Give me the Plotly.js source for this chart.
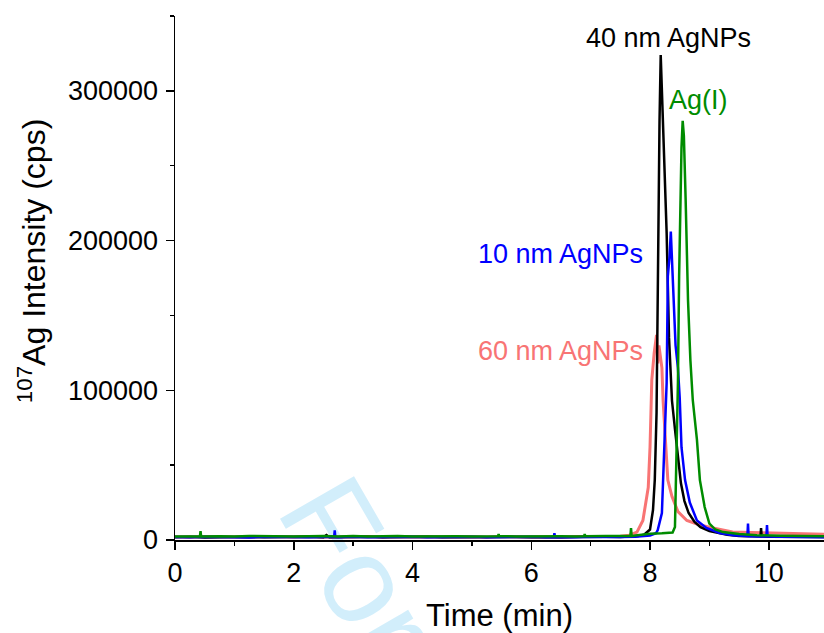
<!DOCTYPE html>
<html>
<head>
<meta charset="utf-8">
<script src="https://cdn.plot.ly/plotly-3.0.1.min.js"></script>
<style>html,body{margin:0;padding:0;background:#fff;}#chart{width:824px;height:633px;}</style>
</head>
<body>
<div id="chart"></div>
<script>
// ---- Data (time in min, intensity in cps) ----
const tBlack = [0,0.25,0.5,0.75,1,1.25,1.5,1.75,2,2.25,2.5,2.55,2.6,2.75,3,3.25,3.5,3.75,4,4.25,4.5,4.75,5,5.25,5.5,5.75,6,6.25,6.5,6.75,7,7.25,7.5,7.7,7.8,7.9,8.0,8.05,8.08,8.11,8.13,8.15,8.16,8.18,8.2,8.22,8.25,8.28,8.32,8.37,8.42,8.47,8.52,8.58,8.65,8.75,8.85,9.0,9.15,9.3,9.5,9.7,9.86,9.87,9.88,10.0,10.2,10.5,10.8,10.93];
const yBlack = [1800,2100,1700,2000,1900,2200,1800,2000,1700,2100,1900,3300,1800,2000,1900,2200,1800,2000,1700,2100,1900,2000,1800,2200,1900,2000,1800,2100,1900,2000,1800,2100,2000,2200,2600,3500,7000,20000,40000,85000,175000,230000,280000,324000,300000,268000,232000,205000,135000,93000,74000,55000,38000,26000,18000,12000,8500,6000,4800,3500,2700,2400,2300,8000,2300,2200,2100,2000,1900,2000];

const tBlue = [0,0.25,0.5,0.75,1,1.25,1.5,1.75,2,2.25,2.5,2.68,2.69,2.7,2.75,3,3.25,3.5,3.75,4,4.25,4.5,4.75,5,5.25,5.5,5.75,6,6.25,6.38,6.39,6.4,6.5,6.75,7,7.25,7.5,7.75,8.0,8.1,8.13,8.2,8.22,8.25,8.28,8.3,8.33,8.35,8.37,8.39,8.43,8.47,8.5,8.53,8.59,8.67,8.79,8.95,9.17,9.4,9.64,9.65,9.66,9.8,9.96,9.97,9.98,10.2,10.5,10.93];
const yBlue = [2000,1800,2100,1900,2000,1700,2100,1900,2000,1800,2000,2000,6500,2000,1900,2100,1800,2000,1900,2100,1800,2000,1900,2100,1800,2000,1900,2100,1900,1900,4500,1900,2000,1800,2100,1900,2000,2200,3000,4500,6700,18000,40000,78000,105000,176000,190000,206000,185000,160000,130000,115000,95000,62000,40000,25000,13000,8000,4700,3200,2600,11000,2600,2400,2400,10000,2400,2200,2000,1900];

const tGreen = [0,0.25,0.42,0.43,0.44,0.75,1,1.25,1.5,1.75,2,2.25,2.5,2.75,3,3.25,3.5,3.75,4,4.25,4.5,4.75,5,5.25,5.44,5.45,5.46,5.75,6,6.25,6.5,6.75,6.89,6.9,6.91,7.25,7.5,7.67,7.68,7.69,7.75,8.0,8.2,8.3,8.38,8.42,8.45,8.47,8.49,8.51,8.53,8.55,8.57,8.6,8.64,8.68,8.72,8.79,8.84,8.92,9.0,9.1,9.23,9.5,9.8,10.2,10.5,10.93];
const yGreen = [2300,2600,2400,6000,2400,2500,2300,2700,2400,2600,2300,2500,2700,2400,2600,2300,2500,2700,2400,2600,2300,2500,2400,2600,2500,4000,2500,2400,2600,2300,2500,2400,2500,4000,2500,2600,2400,2600,8000,2600,3000,4200,4500,4700,5000,8700,62000,105000,176000,235000,262000,280000,270000,227000,160000,120000,93500,67000,40000,22000,11000,7000,5300,4000,3200,2800,2600,2500];

const tSalmon = [0,0.25,0.5,0.75,1,1.25,1.5,1.75,2,2.25,2.5,2.75,3,3.25,3.5,3.75,4,4.25,4.5,4.75,5,5.25,5.5,5.75,6,6.25,6.5,6.75,7,7.25,7.5,7.65,7.78,7.88,7.97,8.0,8.03,8.07,8.11,8.13,8.15,8.2,8.22,8.25,8.3,8.37,8.47,8.62,8.84,9.06,9.39,9.7,9.97,10.4,10.8,10.93];
const ySalmon = [2200,1900,2300,2000,2200,1800,2300,2100,2000,2300,1900,2200,2000,2300,1900,2200,2100,1900,2300,2000,2200,1900,2300,2100,2000,2200,1900,2300,2100,2300,2500,3200,5300,13000,35000,62000,107000,125000,137000,118000,130000,115000,93000,73000,40000,29000,19000,13000,10000,8000,5300,5000,4700,4200,4000,3900];

const labels = ["60 nm AgNPs","40 nm AgNPs","10 nm AgNPs","Ag(I)"];
const colors = ["#F87474","#000000","#0000FF","#008C00"];

const font = "Liberation Sans, Arial, sans-serif";

const traces = [
  {x:tSalmon, y:ySalmon, name:labels[0], type:'scatter', mode:'lines', line:{color:colors[0], width:3}},
  {x:tBlack,  y:yBlack,  name:labels[1], type:'scatter', mode:'lines', line:{color:colors[1], width:2.5}},
  {x:tBlue,   y:yBlue,   name:labels[2], type:'scatter', mode:'lines', line:{color:colors[2], width:2.5}},
  {x:tGreen,  y:yGreen,  name:labels[3], type:'scatter', mode:'lines', line:{color:colors[3], width:2.5}}
];

const layout = {
  width:824, height:633,
  margin:{l:175, r:0, t:16, b:93},
  paper_bgcolor:'#fff', plot_bgcolor:'rgba(0,0,0,0)',
  showlegend:false,
  font:{family:font, color:'#000'},
  xaxis:{
    range:[0,10.93], dtick:2, tick0:0,
    showgrid:false, zeroline:false,
    showline:true, linecolor:'#000', linewidth:1.5,
    ticks:'outside', ticklen:8, tickwidth:1.5, tickcolor:'#000',
    minor:{dtick:1, ticks:'outside', ticklen:4, tickwidth:1.5, tickcolor:'#000'},
    tickfont:{size:27, family:font},
    title:{text:'Time (min)', font:{size:31, family:font}, standoff:18}
  },
  yaxis:{
    range:[0,350000], dtick:100000, tick0:0, tickformat:'d',
    showgrid:false, zeroline:false,
    showline:true, linecolor:'#000', linewidth:1.5,
    ticks:'outside', ticklen:8, tickwidth:1.5, tickcolor:'#000',
    minor:{dtick:50000, ticks:'outside', ticklen:4, tickwidth:1.5, tickcolor:'#000'},
    tickfont:{size:27, family:font},
    ticklabelstandoff:2
  },
  shapes:[
    {type:'rect', xref:'paper', yref:'paper', layer:'below',
     x0:0.291, x1:0.307, y0:-0.052, y1:-0.036,
     line:{width:0}, fillcolor:'rgba(0,0,0,0)',
     label:{text:'For', textangle:60, textposition:'middle center',
            font:{size:124, family:font, color:'#D2EEFB'}}}
  ],
  annotations:[
    {text:'<sup>107</sup>Ag Intensity (cps)', xref:'paper', yref:'paper', x:-0.2203, y:0.532,
     xanchor:'center', yanchor:'middle', textangle:-90, showarrow:false, font:{size:32, family:font, color:'#000'}},
    {text:labels[1], x:8.31, y:335000, xanchor:'center', yanchor:'middle', showarrow:false, font:{size:27, color:colors[1], family:font}},
    {text:labels[3], x:8.82, y:294000, xanchor:'center', yanchor:'middle', showarrow:false, font:{size:27, color:colors[3], family:font}},
    {text:labels[2], x:7.91, y:191000, xanchor:'right', yanchor:'middle', showarrow:false, font:{size:27, color:colors[2], family:font}},
    {text:labels[0], x:7.91, y:126000, xanchor:'right', yanchor:'middle', showarrow:false, font:{size:27, color:colors[0], family:font}}
  ]
};

Plotly.newPlot('chart', traces, layout, {displayModeBar:false, staticPlot:true});
</script>
</body>
</html>
